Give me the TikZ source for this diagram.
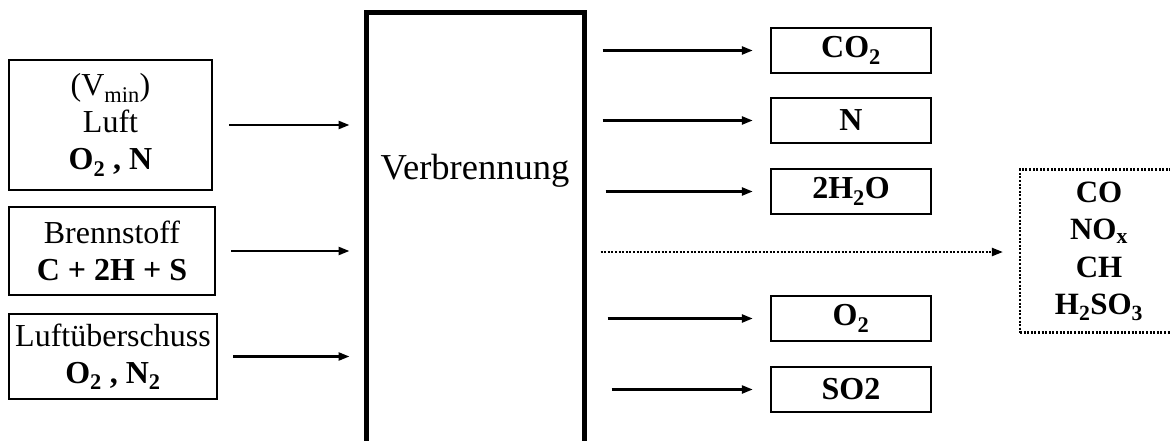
\documentclass[tikz,border=0pt]{standalone}
\usepackage{fontspec}
\setmainfont{Liberation Serif}
\usetikzlibrary{arrows.meta}
\begin{document}
\begin{tikzpicture}[x=1pt,y=-1pt,
  inbox/.style={draw,line width=2.4pt,inner sep=0pt,align=center,font=\fontsize{32}{37}\selectfont},
  outbox/.style={draw,line width=2.4pt,inner sep=0pt,minimum width=160pt,minimum height=45pt,font=\fontsize{32}{37}\selectfont\bfseries},
  bigbox/.style={draw,line width=5pt,inner sep=0pt,minimum width=218pt,minimum height=470pt},
  dotbox/.style={draw,line width=2.2pt,dash pattern=on 2pt off 1.6pt,inner sep=0pt,minimum width=158pt,minimum height=163pt,align=center,font=\fontsize{31}{37.5}\selectfont\bfseries},
  flow/.style={line width=2.4pt,-{Triangle[length=11pt,width=8pt]}},
  dotflow/.style={line width=2.2pt,dash pattern=on 2pt off 1.6pt,-{Triangle[length=11pt,width=8pt]}}
]
\useasboundingbox (0,0) rectangle (1170,441);
\clip (0,0) rectangle (1170,441);
% input boxes
\node[inbox,minimum width=203pt,minimum height=130pt] (in1) at (110.5,125) {(V\textsubscript{min})\\Luft\\\textbf{O\textsubscript{2} , N}};
\node[inbox,minimum width=206pt,minimum height=88pt] (in2) at (112,251) {Brennstoff\\\textbf{C + 2H + S}};
\node[inbox,minimum width=208pt,minimum height=85pt] (in3) at (113,356.5) {Luftüberschuss\\\textbf{O\textsubscript{2} , N\textsubscript{2}}};
% combustion
\node[bigbox] (big) at (475,248) {};
\node[font=\fontsize{36.5}{40}\selectfont] (verb) at (475,171) {Verbrennung};
% output boxes
\node[outbox] (o1) at (851,50.5) {CO\textsubscript{2}};
\node[outbox] (o2) at (851,120.5) {N};
\node[outbox] (o3) at (851,191.5) {2H\textsubscript{2}O};
\node[outbox] (o4) at (851,318.5) {O\textsubscript{2}};
\node[outbox] (o5) at (851,389.5) {SO2};
\node[dotbox] (rest) at (1099,251) {CO\\NO\textsubscript{x}\\CH\\H\textsubscript{2}SO\textsubscript{3}};
% input arrows
\draw[flow,shorten <=16pt,shorten >=14pt] (in1.east) -- (in1.east -| big.west);
\draw[flow,shorten <=15pt,shorten >=14pt] (in2.east) -- (in2.east -| big.west);
\draw[flow,shorten <=15pt,shorten >=14pt] (in3.east) -- (in3.east -| big.west);
% output arrows
\draw[flow,shorten <=16pt,shorten >=17pt] (o1.west -| big.east) -- (o1.west);
\draw[flow,shorten <=16pt,shorten >=17pt] (o2.west -| big.east) -- (o2.west);
\draw[flow,shorten <=19pt,shorten >=17pt] (o3.west -| big.east) -- (o3.west);
\draw[flow,shorten <=21pt,shorten >=17pt] (o4.west -| big.east) -- (o4.west);
\draw[flow,shorten <=25pt,shorten >=17pt] (o5.west -| big.east) -- (o5.west);
\coordinate (ds) at (big.east |- 0,252);
\draw[dotflow,shorten <=14pt,shorten >=16pt] (ds) -- (ds -| rest.west);
\end{tikzpicture}
\end{document}
